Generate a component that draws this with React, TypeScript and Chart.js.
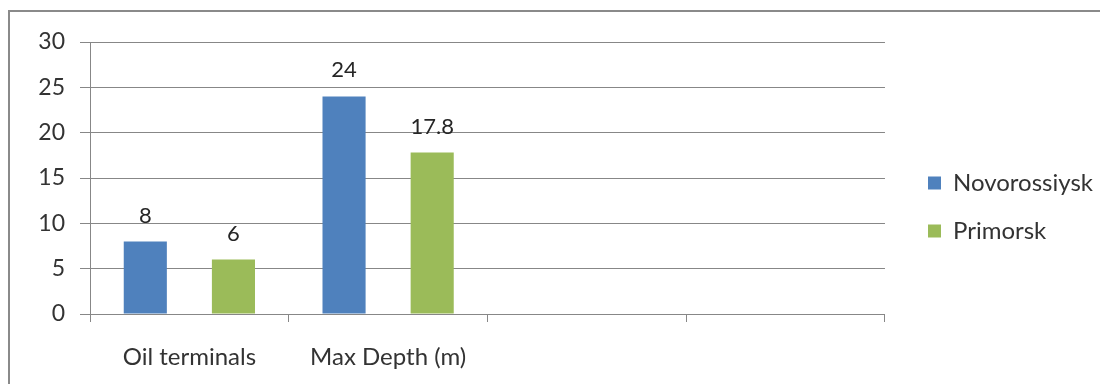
import React, { useEffect, useRef } from "react";
import { Chart, registerables } from "chart.js";

Chart.register(...registerables);

// Chart data
const categories = ["Oil terminals", "Max Depth (m)", "", ""];
const novorossiysk = [8, 24, null, null];
const primorsk = [6, 17.8, null, null];
const seriesNames = ["Novorossiysk", "Primorsk"];
const yMin = 0;
const yMax = 30;
const yStep = 5;

const FONT = "Lato, 'Open Sans', sans-serif";
const GRID = "#878787";
const TEXT = "#333333";
const LEGEND_GAP = 19;

// Writes each bar's value above it
const valueLabels = {
  id: "valueLabels",
  afterDatasetsDraw(chart: any) {
    const { ctx } = chart;
    ctx.save();
    ctx.font = `22px ${FONT}`;
    ctx.fillStyle = "#262626";
    ctx.textAlign = "center";
    ctx.textBaseline = "middle";
    chart.data.datasets.forEach((ds: any, i: number) => {
      chart.getDatasetMeta(i).data.forEach((bar: any, j: number) => {
        const v = ds.data[j];
        if (v === null || v === undefined) return;
        ctx.fillText(String(v), bar.x, bar.y - 26);
      });
    });
    ctx.restore();
  },
};

// Leaves some extra room between the plot and the legend
const legendGap = {
  id: "legendGap",
  afterLayout(chart: any) {
    const lg = chart.legend;
    if (!lg) return;
    lg.left += LEGEND_GAP;
    lg.right += LEGEND_GAP;
  },
};

export default function App() {
  const canvasRef = useRef<HTMLCanvasElement | null>(null);

  useEffect(() => {
    if (!canvasRef.current) return;
    const chart = new Chart(canvasRef.current, {
      type: "bar",
      data: {
        labels: categories,
        datasets: [
          {
            label: seriesNames[0],
            data: novorossiysk,
            backgroundColor: "#4F81BD",
            categoryPercentage: 0.887,
            barPercentage: 0.489,
          },
          {
            label: seriesNames[1],
            data: primorsk,
            backgroundColor: "#9BBB59",
            categoryPercentage: 0.887,
            barPercentage: 0.489,
          },
        ],
      },
      options: {
        animation: false,
        responsive: true,
        maintainAspectRatio: false,
        layout: { padding: { top: 30, bottom: 14, left: 0, right: 24 } },
        plugins: {
          tooltip: { enabled: false },
          legend: {
            position: "right",
            align: "center",
            labels: {
              boxWidth: 13,
              boxHeight: 13,
              padding: 24,
              color: TEXT,
              font: { family: FONT, size: 24 },
            },
          },
        },
        scales: {
          x: {
            type: "category",
            offset: true,
            grid: {
              offset: true,
              drawOnChartArea: false,
              drawTicks: true,
              tickLength: 8,
              color: GRID,
            },
            border: { display: true, color: GRID },
            ticks: {
              padding: 21,
              color: TEXT,
              font: { family: FONT, size: 24 },
              maxRotation: 0,
              autoSkip: false,
            },
            afterFit: (s: any) => {
              s.height = 58;
            },
          },
          y: {
            min: yMin,
            max: yMax,
            grid: { color: GRID, tickLength: 10, drawTicks: true },
            border: { display: true, color: GRID },
            ticks: {
              stepSize: yStep,
              padding: 15,
              color: TEXT,
              font: { family: FONT, size: 23 },
            },
            afterFit: (s: any) => {
              s.width = 80;
            },
          },
        },
      },
      plugins: [valueLabels, legendGap],
    } as any);
    return () => chart.destroy();
  }, []);

  return (
    <div
      style={{
        position: "relative",
        top: 2,
        width: 1100,
        height: 376,
        boxSizing: "border-box",
        borderTop: "2px solid #8a8a8a",
        borderLeft: "2px solid #8a8a8a",
        background: "#ffffff",
      }}
    >
      <div style={{ position: "absolute", left: 0, top: 0, width: 1098, height: 374 }}>
        <canvas ref={canvasRef} />
      </div>
    </div>
  );
}
